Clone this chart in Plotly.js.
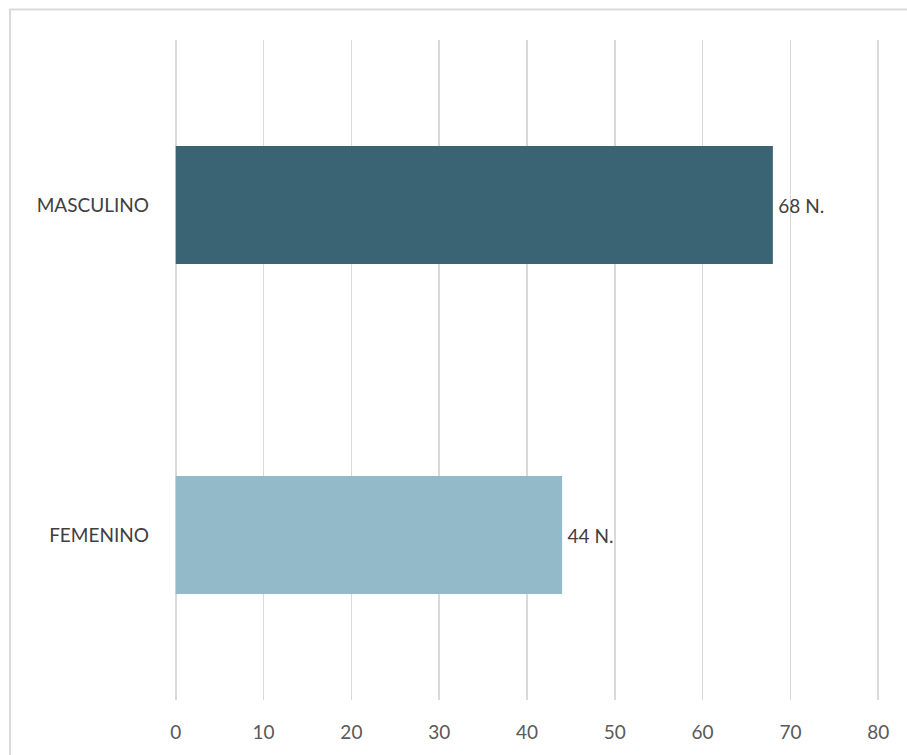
<!DOCTYPE html>
<html>
<head>
<meta charset="utf-8">
<script src="https://cdn.plot.ly/plotly-3.0.1.min.js"></script>
<style>html,body{margin:0;padding:0;background:#fff;}#chart{width:907px;height:755px;}</style>
</head>
<body>
<div id="chart"></div>
<script>
const categories = ['MASCULINO', 'FEMENINO'];
const values = [68, 44];
const barColors = ['#3A6473', '#92BAC9'];
const labelSuffix = ' N.';
const xTicks = [0, 10, 20, 30, 40, 50, 60, 70, 80];

const trace = {
  type: 'bar',
  orientation: 'h',
  y: categories,
  x: values,
  marker: {color: barColors},
  text: values.map(v => '\u2009' + v + labelSuffix),
  textposition: 'outside',
  cliponaxis: false,
  textfont: {family: 'Lato, sans-serif', size: 19, color: '#404040'},
  hoverinfo: 'none'
};

const L = 174, R = 27;
const layout = {
  width: 907, height: 755,
  margin: {l: L, r: R, t: 40, b: 55},
  paper_bgcolor: '#ffffff', plot_bgcolor: '#ffffff',
  showlegend: false,
  bargap: 0.643,
  font: {family: 'Lato, sans-serif', size: 19, color: '#595959'},
  xaxis: {
    range: [-0.2, 80.2], tickvals: xTicks, ticktext: xTicks.map(String),
    showgrid: true, gridcolor: '#D9D9D9', gridwidth: 1.5,
    zeroline: false, showline: false, ticks: '',
    ticklabelstandoff: 19,
    tickfont: {size: 19, color: '#595959'}
  },
  yaxis: {
    autorange: 'reversed', showgrid: false, zeroline: false, showline: false,
    ticks: '', ticklabelstandoff: 24,
    tickfont: {size: 19, color: '#404040'}
  },
  shapes: [{
    type: 'rect', xref: 'paper', yref: 'paper',
    x0: (10 - L) / (907 - L - R), x1: (912 - L) / (907 - L - R),
    y0: (700 - 760) / 660, y1: (700 - 9.5) / 660,
    line: {color: '#D9D9D9', width: 2}, fillcolor: 'rgba(0,0,0,0)', layer: 'below'
  }]
};

Plotly.newPlot('chart', [trace], layout, {staticPlot: true, displayModeBar: false});
</script>
</body>
</html>
